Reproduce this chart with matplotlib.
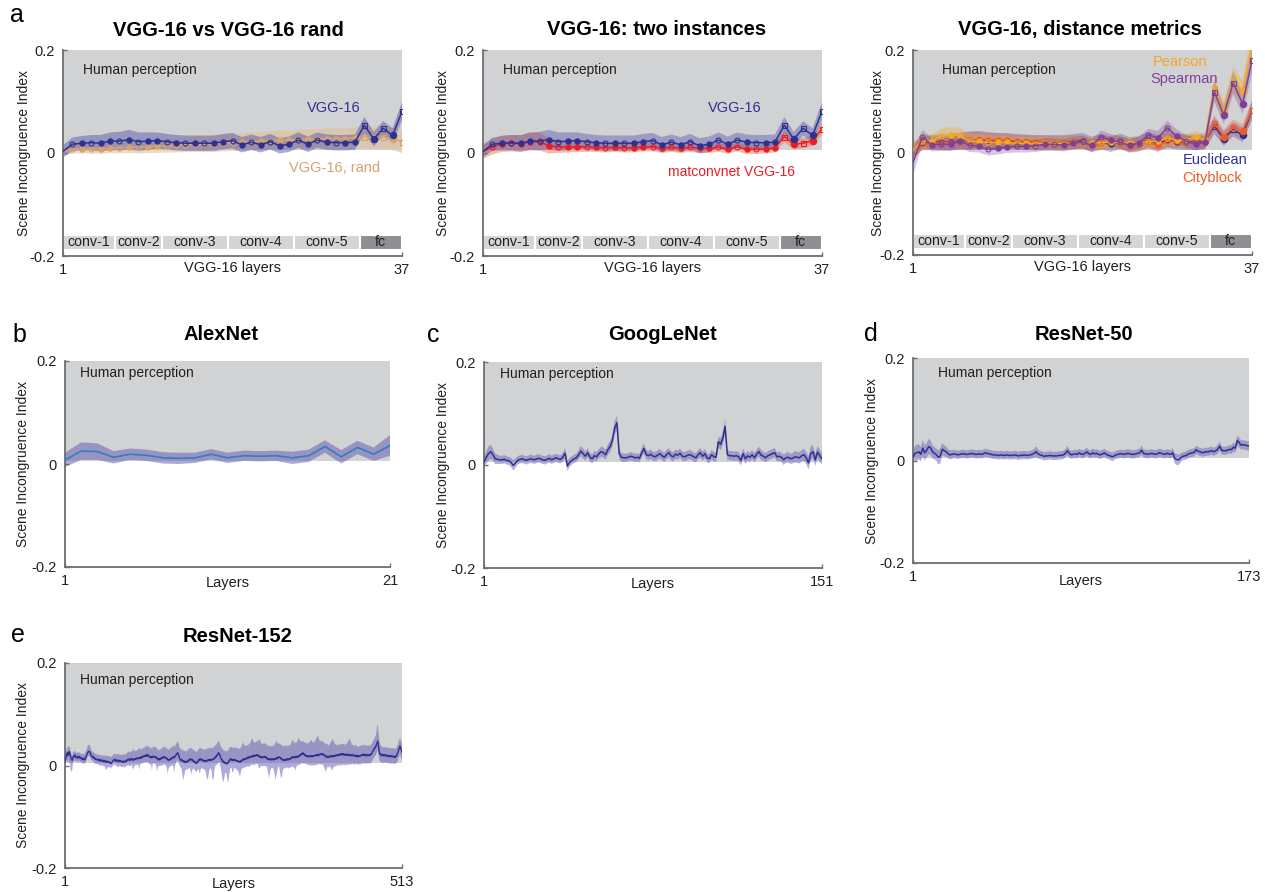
import numpy as np
import matplotlib
matplotlib.use('Agg')
import matplotlib.pyplot as plt
from matplotlib.patches import Rectangle

plt.rcParams['font.family'] = ['Liberation Sans', 'DejaVu Sans']

# ---------------------------------------------------------------- data
HUMAN_LO = 0.005  # lower edge of the human-perception band
HUMAN_HI = 0.2

vgg_layer_types = ['input', 'relu', 'conv', 'relu', 'conv', 'pool', 'relu', 'conv', 'relu', 'conv',
                   'pool', 'relu', 'conv', 'relu', 'conv', 'relu', 'conv', 'pool', 'relu', 'conv',
                   'relu', 'conv', 'relu', 'conv', 'pool', 'relu', 'conv', 'relu', 'conv', 'relu',
                   'conv', 'pool', 'fcrelu', 'fc', 'fcrelu', 'fc', 'prob']
vgg_blocks = ['conv-1', 'conv-2', 'conv-3', 'conv-4', 'conv-5', 'fc']
vgg_block_edges = [1, 6.5, 11.5, 18.5, 25.5, 32.5, 37]

# values in thousandths
vgg16_m = [3, 17, 19, 20, 19, 23, 23, 26, 22, 23, 24, 22, 20, 19, 19, 19, 19, 22, 24, 16,
           21, 16, 22, 14, 17, 25, 17, 25, 21, 20, 20, 21, 54, 27, 48, 34, 81]
vgg16_hw = [12, 13, 14, 15, 16, 17, 18, 19, 18, 17, 16, 15, 15, 15, 15, 15, 15, 15, 15, 15,
            15, 15, 15, 15, 15, 15, 15, 15, 15, 15, 15, 15, 16, 14, 14, 14, 18]
vgg16rand_m = [3, 7, 8, 8, 8, 10, 10, 11, 11, 12, 13, 14, 15, 16, 17, 17, 18, 19, 20, 21,
               22, 23, 24, 25, 25, 26, 27, 27, 28, 28, 28, 29, 32, 29, 31, 28, 22]
vgg16rand_hw = [8, 8, 9, 9, 10, 10, 11, 11, 12, 12, 13, 13, 14, 14, 15, 15, 16, 16, 16, 17,
                17, 17, 18, 18, 18, 19, 19, 19, 20, 20, 20, 20, 22, 22, 22, 22, 22]
matconv_m = [3, 12, 18, 19, 18, 22, 22, 14, 12, 11, 12, 12, 11, 10, 11, 10, 10, 12, 12, 9,
             11, 9, 11, 9, 9, 11, 8, 12, 7, 7, 8, 10, 32, 17, 19, 24, 47]
matconv_hw = [14, 15, 16, 16, 16, 17, 17, 15, 12, 10, 10, 10, 9, 9, 9, 9, 9, 9, 9, 9,
              9, 9, 9, 9, 9, 9, 9, 9, 9, 9, 9, 9, 11, 10, 10, 10, 12]
pearson_m = [5, 22, 22, 32, 35, 33, 22, 22, 20, 20, 20, 18, 18, 17, 18, 18, 17, 18, 19, 18,
             20, 20, 20, 18, 18, 22, 22, 28, 24, 24, 30, 25, 125, 80, 142, 120, 212]
pearson_hw = [14, 14, 14, 15, 15, 15, 14, 13, 12, 12, 12, 12, 12, 12, 12, 12, 12, 12, 12, 12,
              12, 12, 12, 12, 12, 12, 12, 14, 12, 12, 12, 12, 22, 20, 24, 22, 28]
spearman_m = [-20, 30, 15, 16, 16, 22, 14, 12, 6, 8, 11, 12, 12, 13, 16, 16, 14, 18, 20, 14,
              31, 24, 20, 14, 19, 34, 29, 48, 32, 22, 16, 20, 119, 73, 136, 95, 180]
spearman_hw = [25, 14, 13, 13, 13, 13, 13, 12, 12, 12, 12, 12, 12, 12, 12, 12, 12, 12, 12, 12,
               12, 12, 12, 12, 12, 12, 13, 14, 13, 12, 12, 12, 20, 18, 22, 20, 26]
euclid_m = [5, 18, 20, 20, 20, 22, 23, 24, 22, 22, 23, 21, 20, 19, 19, 19, 19, 21, 23, 16,
            21, 16, 22, 15, 17, 25, 18, 25, 21, 20, 20, 21, 52, 27, 45, 34, 82]
euclid_hw = [14, 13, 14, 15, 16, 17, 18, 18, 17, 16, 15, 15, 15, 15, 15, 15, 15, 15, 15, 15,
             15, 15, 15, 15, 15, 15, 15, 15, 15, 15, 15, 15, 16, 14, 14, 14, 18]
cityblock_m = [5, 17, 18, 19, 19, 21, 24, 25, 25, 24, 24, 22, 21, 20, 20, 19, 19, 20, 20, 14,
               18, 20, 19, 13, 16, 20, 14, 22, 22, 20, 18, 20, 57, 31, 50, 41, 83]
cityblock_hw = [14, 13, 13, 14, 14, 15, 16, 16, 15, 14, 13, 13, 13, 13, 13, 13, 13, 13, 13, 13,
                13, 13, 13, 13, 13, 13, 13, 13, 13, 13, 13, 13, 16, 14, 15, 14, 18]

alexnet_m = [8, 25, 24, 13, 19, 17, 12, 11, 12, 19, 12, 16, 15, 16, 12, 16, 34, 14, 32, 19, 36]
alexnet_hw = [14, 17, 16, 12, 11, 11, 11, 11, 10, 10, 10, 10, 10, 10, 12, 12, 12, 13, 13, 13, 20]

googlenet_m = [6, 15, 22, 26, 20, 12, 11, 10, 10, 11, 9, 8, 5, -1, 4, 9, 11, 12, 10, 9, 11, 12, 10, 11, 13,
               12, 10, 9, 11, 13, 10, 12, 14, 12, 11, 15, 23, -2, 5, 9, 12, 14, 20, 27, 22, 17, 24, 15, 12, 18,
               16, 22, 26, 24, 20, 30, 36, 48, 72, 82, 22, 15, 14, 14, 15, 17, 16, 14, 15, 13, 24, 32, 20, 18, 21,
               17, 16, 19, 22, 18, 15, 20, 24, 18, 16, 21, 19, 23, 17, 16, 18, 20, 19, 16, 14, 20, 24, 17, 22, 14,
               12, 20, 16, 15, 45, 40, 52, 75, 20, 18, 18, 17, 18, 16, 9, 22, 12, 18, 15, 20, 14, 21, 26, 19, 17,
               14, 18, 20, 22, 24, 16, 17, 15, 10, 14, 15, 12, 13, 16, 15, 14, 18, 20, 14, 4, 22, 26, 10, 25, 18, 12]
googlenet_hw = [10, 12, 14, 14, 12, 10, 9, 8, 8, 8, 8, 8, 9, 10, 9, 8, 8, 8, 8, 8, 8, 8, 8, 8, 8,
                8, 8, 8, 8, 8, 8, 8, 8, 8, 8, 9, 10, 10, 9, 8, 8, 8, 9, 10, 10, 9, 9, 9, 9, 9,
                9, 9, 10, 10, 10, 10, 11, 12, 13, 14, 10, 9, 8, 8, 8, 8, 8, 8, 8, 8, 9, 10, 9, 9, 9,
                9, 9, 9, 9, 9, 9, 9, 9, 9, 9, 9, 9, 9, 9, 9, 9, 9, 9, 9, 9, 9, 9, 9, 9, 9,
                9, 9, 9, 9, 11, 12, 13, 14, 10, 9, 9, 9, 9, 9, 10, 10, 10, 9, 9, 9, 9, 9, 10, 10, 9,
                9, 9, 9, 9, 9, 9, 9, 9, 10, 10, 10, 10, 10, 11, 11, 11, 11, 12, 12, 13, 14, 13, 12, 12, 12, 11]

resnet50_m = [7, 14, 15, 17, 12, 24, 15, 20, 27, 25, 17, 14, 11, 6, 9, 22, 19, 17, 13, 11,
              12, 13, 12, 11, 12, 13, 13, 12, 12, 13, 14, 13, 12, 12, 13, 12, 13, 15, 14, 13,
              12, 11, 11, 10, 10, 11, 10, 10, 11, 10, 10, 10, 11, 10, 9, 10, 10, 11, 10, 10,
              11, 12, 14, 17, 13, 11, 10, 8, 9, 9, 10, 9, 9, 9, 9, 10, 10, 11, 14, 19,
              14, 11, 12, 13, 12, 15, 13, 12, 14, 17, 13, 12, 15, 13, 14, 12, 11, 13, 15, 12,
              10, 9, 7, 9, 11, 12, 13, 13, 12, 13, 14, 13, 12, 12, 13, 14, 15, 20, 14, 13,
              12, 13, 14, 13, 12, 13, 15, 14, 13, 12, 14, 13, 12, 15, 4, 2, 1, 5, 8, 9,
              10, 13, 14, 15, 16, 21, 18, 17, 15, 16, 17, 17, 18, 19, 17, 19, 22, 28, 20, 19,
              19, 20, 22, 21, 26, 24, 39, 35, 30, 31, 30, 29, 28]
resnet50_hw = [12, 14, 16, 15, 14, 16, 15, 14, 15, 14, 13, 12, 12, 14, 15, 12, 11, 10, 9, 9, 9, 8, 8, 8, 8,
               8, 8, 8, 8, 8, 8, 8, 8, 8, 8, 8, 8, 8, 8, 8, 8, 8, 8, 8, 8, 8, 8, 8, 8, 8,
               8, 8, 8, 8, 8, 8, 8, 8, 8, 8, 8, 8, 9, 11, 9, 8, 8, 8, 8, 8, 8, 8, 8, 8, 8,
               8, 8, 8, 8, 9, 8, 8, 8, 8, 8, 8, 8, 8, 8, 8, 8, 8, 8, 8, 8, 8, 8, 8, 8, 8,
               8, 8, 9, 8, 8, 8, 8, 8, 8, 8, 8, 8, 8, 8, 8, 8, 8, 9, 8, 8, 8, 8, 8, 8, 8,
               8, 8, 8, 8, 8, 8, 8, 8, 9, 10, 11, 10, 9, 8, 8, 8, 8, 8, 8, 8, 8, 8, 8, 8, 8,
               8, 8, 8, 8, 8, 8, 9, 9, 8, 8, 8, 8, 8, 9, 9, 9, 10, 10, 9, 9, 9, 9, 9]

resnet152_m = [7, 14, 18, 24, 19, 26, 22, 27, 20, 15, 12, 10, 15, 18, 17, 21, 17, 15, 16, 18, 14, 16, 18, 15, 14,
               15, 12, 14, 11, 14, 11, 15, 17, 20, 24, 26, 28, 27, 26, 22, 19, 18, 16, 17, 14, 15, 12, 13, 11, 12,
               11, 12, 9, 12, 10, 8, 11, 9, 10, 7, 10, 8, 6, 9, 7, 8, 6, 7, 5, 6, 4, 6, 7, 9, 11,
               10, 12, 9, 10, 8, 11, 9, 7, 10, 8, 9, 7, 8, 6, 9, 7, 8, 7, 10, 9, 12, 11, 13, 10, 12,
               11, 14, 12, 10, 13, 11, 13, 12, 14, 13, 15, 13, 15, 14, 16, 14, 17, 15, 18, 17, 19, 18, 20, 18, 21,
               18, 21, 19, 17, 18, 15, 17, 15, 18, 17, 18, 16, 18, 15, 16, 13, 14, 11, 13, 11, 14, 13, 16, 14, 17,
               15, 17, 15, 16, 13, 14, 11, 12, 10, 12, 11, 14, 13, 16, 15, 17, 15, 18, 18, 22, 22, 25, 23, 19, 14,
               12, 10, 12, 9, 10, 7, 9, 6, 8, 6, 8, 7, 10, 9, 12, 11, 13, 11, 12, 9, 10, 7, 8, 5, 6,
               4, 7, 7, 11, 10, 13, 11, 13, 10, 11, 9, 10, 8, 10, 8, 10, 9, 11, 10, 12, 10, 12, 10, 12, 11,
               13, 12, 15, 15, 18, 17, 21, 21, 25, 24, 22, 17, 14, 11, 11, 7, 8, 5, 6, 4, 5, 3, 5, 5, 9,
               9, 13, 11, 13, 10, 12, 10, 12, 10, 11, 9, 10, 8, 9, 7, 8, 6, 9, 8, 11, 10, 13, 11, 13, 12,
               14, 13, 16, 14, 17, 15, 17, 16, 18, 17, 19, 17, 20, 18, 20, 19, 21, 19, 21, 18, 19, 16, 17, 15, 17,
               15, 17, 16, 18, 16, 17, 14, 15, 12, 13, 11, 13, 11, 13, 11, 13, 11, 13, 11, 13, 12, 15, 13, 16, 15,
               17, 15, 16, 13, 14, 11, 12, 10, 12, 10, 12, 10, 13, 11, 13, 11, 13, 12, 15, 14, 17, 15, 17, 15, 17,
               15, 18, 16, 18, 16, 19, 18, 21, 20, 23, 22, 25, 22, 23, 20, 21, 18, 19, 17, 19, 17, 19, 17, 19, 17,
               19, 17, 19, 18, 20, 19, 21, 19, 21, 19, 22, 20, 22, 21, 23, 21, 23, 21, 22, 19, 20, 17, 18, 16, 18,
               16, 18, 16, 19, 17, 19, 17, 19, 17, 20, 18, 20, 19, 21, 19, 21, 20, 22, 20, 23, 21, 23, 21, 23, 20,
               22, 20, 22, 20, 22, 20, 22, 19, 21, 19, 21, 19, 21, 19, 20, 18, 20, 18, 20, 17, 19, 17, 19, 18, 20,
               19, 21, 20, 22, 20, 22, 19, 21, 19, 21, 19, 21, 19, 21, 20, 23, 23, 27, 28, 32, 32, 36, 36, 41, 43,
               48, 39, 31, 23, 23, 20, 22, 19, 21, 19, 21, 19, 21, 18, 20, 18, 20, 17, 19, 17, 19, 17, 19, 17, 18,
               16, 18, 16, 19, 19, 24, 26, 32, 34, 38, 33, 31, 26]
resnet152_lo = [9, 9, 10, 12, 14, 16, 18, 20, 22, 26, 24, 18, 12, 10, 9, 9, 9, 8, 8, 8, 9, 9, 8, 8, 8,
                8, 9, 9, 8, 8, 9, 10, 9, 9, 8, 8, 9, 9, 10, 9, 9, 8, 8, 9, 9, 10, 10, 9, 9, 9,
                9, 9, 10, 10, 11, 10, 9, 9, 10, 10, 11, 12, 14, 16, 14, 11, 10, 10, 9, 9, 10, 10, 9, 9, 9,
                9, 10, 10, 10, 11, 12, 12, 11, 10, 10, 10, 11, 11, 10, 10, 11, 11, 10, 10, 11, 11, 12, 12, 12, 13,
                12, 12, 13, 16, 20, 14, 12, 12, 13, 13, 12, 13, 16, 22, 14, 12, 12, 12, 13, 13, 12, 12, 13, 13, 14,
                13, 13, 14, 15, 14, 14, 16, 24, 18, 13, 13, 14, 14, 15, 20, 26, 18, 13, 13, 13, 14, 14, 15, 15, 14,
                14, 14, 15, 15, 16, 20, 28, 20, 15, 14, 14, 14, 14, 15, 15, 22, 30, 20, 15, 14, 14, 15, 15, 14, 14,
                14, 15, 18, 24, 32, 36, 30, 20, 16, 15, 15, 15, 16, 16, 16, 18, 24, 30, 22, 16, 15, 16, 16, 16, 17,
                17, 16, 16, 17, 22, 28, 20, 17, 17, 17, 16, 16, 17, 18, 22, 30, 36, 38, 30, 22, 17, 17, 18, 24, 38,
                40, 36, 24, 18, 17, 17, 17, 18, 20, 17, 17, 18, 22, 28, 36, 40, 38, 30, 22, 18, 20, 24, 34, 40, 32,
                24, 18, 17, 17, 22, 26, 20, 17, 16, 16, 17, 17, 18, 19, 22, 26, 30, 22, 17, 16, 16, 17, 17, 16, 16,
                16, 16, 17, 17, 18, 18, 17, 17, 16, 16, 17, 17, 18, 18, 17, 17, 17, 17, 18, 20, 24, 22, 18, 17, 17,
                17, 17, 18, 18, 18, 18, 17, 17, 22, 30, 36, 30, 22, 18, 17, 17, 17, 20, 26, 34, 40, 36, 28, 22, 18,
                18, 22, 30, 36, 38, 30, 20, 17, 16, 16, 16, 16, 16, 16, 17, 17, 17, 17, 18, 18, 18, 18, 19, 20, 22,
                26, 22, 18, 17, 17, 17, 17, 18, 18, 18, 19, 20, 19, 18, 17, 16, 16, 16, 16, 17, 17, 17, 18, 18, 18,
                18, 18, 18, 18, 19, 19, 19, 19, 19, 18, 18, 18, 19, 19, 20, 20, 20, 21, 22, 24, 28, 30, 26, 22, 20,
                20, 20, 20, 20, 22, 26, 28, 24, 21, 21, 21, 21, 21, 20, 20, 20, 20, 20, 21, 21, 21, 21, 21, 20, 20,
                20, 20, 20, 20, 20, 19, 19, 18, 18, 18, 18, 18, 17, 17, 17, 17, 17, 16, 16, 16, 16, 16, 16, 17, 17,
                17, 17, 17, 17, 17, 17, 17, 16, 16, 16, 16, 16, 16, 16, 17, 17, 17, 17, 17, 17, 17, 17, 17, 18, 18,
                18, 17, 16, 15, 15, 15, 15, 15, 15, 15, 15, 14, 14, 14, 14, 14, 14, 14, 14, 14, 14, 14, 14, 14, 14,
                14, 14, 14, 14, 14, 15, 16, 16, 16, 16, 16, 16, 16]
resnet152_hi = [8, 9, 10, 12, 14, 14, 13, 12, 11, 10, 10, 10, 10, 10, 9, 9, 9, 9, 9, 10, 10, 9, 9, 9, 9,
                9, 9, 10, 10, 10, 11, 12, 12, 12, 12, 13, 13, 13, 12, 12, 11, 10, 10, 10, 10, 10, 10, 10, 10, 10,
                10, 10, 10, 10, 10, 10, 10, 10, 10, 11, 11, 11, 11, 11, 11, 12, 12, 12, 12, 12, 12, 12, 12, 12, 12,
                12, 12, 12, 12, 12, 13, 13, 13, 13, 13, 13, 13, 13, 14, 14, 14, 14, 14, 14, 14, 14, 15, 15, 15, 15,
                15, 15, 16, 18, 22, 18, 16, 16, 16, 16, 16, 17, 18, 20, 18, 16, 16, 16, 16, 17, 17, 17, 18, 18, 18,
                18, 18, 18, 18, 18, 18, 18, 18, 18, 19, 19, 19, 20, 20, 20, 19, 18, 18, 18, 18, 18, 18, 19, 19, 20,
                20, 20, 20, 20, 20, 20, 20, 20, 20, 21, 21, 21, 22, 22, 22, 22, 21, 21, 21, 22, 22, 22, 22, 22, 21,
                21, 21, 21, 21, 21, 21, 21, 21, 21, 21, 21, 22, 22, 22, 22, 22, 22, 22, 22, 22, 22, 22, 22, 22, 22,
                22, 22, 22, 22, 22, 22, 22, 22, 22, 22, 22, 22, 22, 22, 22, 23, 23, 23, 23, 23, 23, 23, 23, 23, 23,
                23, 23, 23, 23, 23, 23, 23, 23, 23, 23, 23, 23, 23, 23, 23, 23, 23, 23, 24, 24, 24, 24, 24, 24, 24,
                24, 24, 24, 24, 24, 24, 24, 24, 24, 25, 25, 25, 25, 25, 25, 26, 26, 27, 28, 30, 32, 34, 30, 27, 26,
                25, 25, 25, 25, 25, 26, 27, 29, 32, 35, 34, 30, 27, 26, 26, 26, 27, 27, 28, 30, 32, 34, 30, 28, 27,
                26, 26, 26, 26, 26, 26, 26, 26, 26, 26, 26, 26, 26, 26, 26, 26, 26, 27, 28, 30, 33, 35, 32, 28, 27,
                27, 27, 27, 27, 27, 27, 27, 27, 27, 27, 27, 27, 27, 27, 27, 27, 27, 27, 28, 30, 32, 34, 32, 29, 28,
                28, 28, 28, 30, 34, 36, 32, 28, 27, 25, 24, 24, 24, 24, 25, 25, 25, 25, 25, 26, 26, 27, 28, 30, 33,
                30, 28, 27, 27, 27, 28, 30, 33, 36, 38, 34, 30, 27, 26, 26, 25, 25, 25, 25, 24, 24, 24, 24, 25, 25,
                22, 23, 24, 26, 28, 30, 32, 34, 30, 26, 24, 22, 21, 20, 20, 20, 20, 20, 20, 20, 20, 20, 20, 20, 20,
                20, 20, 21, 22, 24, 26, 29, 31, 32, 28, 24, 21, 20, 20, 20, 20, 20, 20, 20, 19, 19, 19, 19, 19, 19,
                19, 19, 19, 19, 19, 19, 19, 19, 19, 19, 19, 19, 19, 19, 19, 19, 19, 19, 19, 19, 19, 20, 22, 25, 30,
                34, 30, 26, 22, 20, 18, 17, 16, 16, 16, 16, 16, 16, 16, 16, 16, 16, 16, 16, 16, 16, 16, 16, 16, 16,
                16, 16, 16, 16, 16, 16, 16, 16, 16, 16, 16, 16, 16]

# ---------------------------------------------------------------- styles
W, H = 1265, 892
BG = '#d1d2d4'
AXC = '#6d6e71'
TXT = '#231f20'
NAVY = '#2e3192'
NAVY_BAND = '#5d59aa'
TAN = '#d6a36e'
TAN_BAND = '#e2bf98'
RED = '#ed1c24'
RED_BAND = '#ef6a45'
PEARSON = '#f5a623'
SPEARMAN = '#7e3f98'
CITY = '#f15a24'
ALEX_LINE = '#2f7fc1'

fig = plt.figure(figsize=(W / 100, H / 100), dpi=100)


def pxax(l, t, r, b):
    return fig.add_axes([l / W, 1 - b / H, (r - l) / W, (b - t) / H])


def arr(v):
    return np.asarray(v, dtype=float) / 1000.0


def base(ax, n, wpx, hpx, ylab_dx, xlabel, xlab_dy, hp_xy):
    ax.set_xlim(1, n)
    ax.set_ylim(-0.2, 0.2)
    ax.add_patch(Rectangle((1, HUMAN_LO), n - 1, HUMAN_HI - HUMAN_LO, facecolor=BG,
                           edgecolor='none', zorder=0))
    for s in ['top', 'right']:
        ax.spines[s].set_visible(False)
    for s in ['left', 'bottom']:
        ax.spines[s].set_color(AXC)
        ax.spines[s].set_linewidth(1.3)
    ax.set_yticks([-0.2, 0, 0.2])
    ax.set_yticklabels(['-0.2', '0', '0.2'])
    ax.set_xticks([1, n])
    ax.set_xticklabels(['1', str(n)])
    ax.tick_params(direction='in', length=3, width=1, color=AXC, labelsize=10.5,
                   labelcolor=TXT, pad=5)
    ax.tick_params(axis='y', pad=6)
    ax.set_ylabel('Scene Incongruence Index', fontsize=10, color=TXT, va='center')
    ax.yaxis.set_label_coords(-ylab_dx / wpx, 0.5)
    ax.set_xlabel(xlabel, fontsize=10.5, color=TXT, va='center')
    ax.xaxis.set_label_coords(0.5, -xlab_dy / hpx)
    ax.text(hp_xy[0], hp_xy[1], 'Human perception', transform=ax.transAxes,
            fontsize=10, color=TXT, ha='left', va='center')
    ax.set_facecolor('none')


def band_line(ax, m, lo, hi, color, bandcolor, alpha=0.5, lw=1.2, z=2):
    x = np.arange(1, len(m) + 1)
    m = arr(m)
    ax.fill_between(x, m - arr(lo), m + arr(hi), facecolor=bandcolor, alpha=alpha,
                    edgecolor='none', zorder=z)
    return x, m


def vgg_line(ax, m, color, lw=1.1, z=4):
    x = np.arange(1, len(m) + 1)
    y = arr(m)
    ax.plot(x, y, color=color, lw=lw, zorder=z)
    styles = {
        'conv': dict(marker='o', ms=3.6, mfc=color, mec=color),
        'pool': dict(marker='o', ms=3.6, mfc=color, mec=color),
        'relu': dict(marker='o', ms=3.6, mfc='none', mec=color, mew=0.8),
        'fc': dict(marker='o', ms=4.4, mfc=color, mec=color),
        'fcrelu': dict(marker='s', ms=3.6, mfc='none', mec=color, mew=0.8),
        'prob': dict(marker='s', ms=3.6, mfc='none', mec=color, mew=0.8),
    }
    types = np.array(vgg_layer_types)
    for kind, st in styles.items():
        idx = np.where(types == kind)[0]
        ax.plot(x[idx], y[idx], ls='none', zorder=z + 0.1, **st)


def vgg_blocks_draw(ax):
    for i, name in enumerate(vgg_blocks):
        x0, x1 = vgg_block_edges[i], vgg_block_edges[i + 1]
        fc = '#8e8f92' if name == 'fc' else '#d4d5d7'
        ax.add_patch(Rectangle((x0, -0.188), x1 - x0, 0.029, facecolor=fc,
                               edgecolor='white', lw=1.5, zorder=1))
        ax.text((x0 + x1) / 2, -0.1735, name, fontsize=10.2, color=TXT,
                ha='center', va='center', zorder=2)


def ftext(xpx, ypx, s, **kw):
    fig.text(xpx / W, 1 - ypx / H, s, **kw)


TITLE = dict(fontsize=14.5, fontweight='bold', color='black', ha='center', va='baseline')
LETTER = dict(fontsize=18, color='black', ha='left', va='baseline')

# ---------------------------------------------------------------- panel a1
ax = pxax(63, 50, 402, 256)
base(ax, 37, 339, 206, 39, 'VGG-16 layers', 12, (0.059, 0.903))
vgg_blocks_draw(ax)
band_line(ax, vgg16rand_m, vgg16rand_hw, vgg16rand_hw, TAN, TAN_BAND, alpha=0.6)
band_line(ax, vgg16_m, vgg16_hw, vgg16_hw, NAVY, NAVY_BAND, alpha=0.5)
vgg_line(ax, vgg16rand_m, TAN, z=3)
vgg_line(ax, vgg16_m, NAVY, z=4)
ax.text(0.80, 0.718, 'VGG-16', transform=ax.transAxes, color=NAVY, fontsize=10.5,
        ha='center', va='center')
ax.text(0.80, 0.427, 'VGG-16, rand', transform=ax.transAxes, color=TAN, fontsize=10.5,
        ha='center', va='center')
ftext(228, 36, 'VGG-16 vs VGG-16 rand', **TITLE)
ftext(10, 22, 'a', **LETTER)

# ---------------------------------------------------------------- panel a2
ax = pxax(483, 50, 822, 256)
base(ax, 37, 339, 206, 40, 'VGG-16 layers', 12, (0.059, 0.903))
vgg_blocks_draw(ax)
band_line(ax, matconv_m, matconv_hw, matconv_hw, RED, RED_BAND, alpha=0.45)
band_line(ax, vgg16_m, vgg16_hw, vgg16_hw, NAVY, NAVY_BAND, alpha=0.45)
vgg_line(ax, matconv_m, RED, z=3)
vgg_line(ax, vgg16_m, NAVY, z=4)
ax.text(0.743, 0.718, 'VGG-16', transform=ax.transAxes, color=NAVY, fontsize=10.5,
        ha='center', va='center')
ax.text(0.733, 0.408, 'matconvnet VGG-16', transform=ax.transAxes, color=RED, fontsize=10,
        ha='center', va='center')
ftext(657, 35, 'VGG-16: two instances', **TITLE)

# ---------------------------------------------------------------- panel a3
ax = pxax(913, 50, 1252, 255)
base(ax, 37, 339, 205, 35, 'VGG-16 layers', 12, (0.085, 0.903))
vgg_blocks_draw(ax)
band_line(ax, euclid_m, euclid_hw, euclid_hw, NAVY, NAVY_BAND, alpha=0.4)
band_line(ax, cityblock_m, cityblock_hw, cityblock_hw, CITY, CITY, alpha=0.3)
band_line(ax, pearson_m, pearson_hw, pearson_hw, PEARSON, PEARSON, alpha=0.35)
band_line(ax, spearman_m, spearman_hw, spearman_hw, SPEARMAN, SPEARMAN, alpha=0.3)
vgg_line(ax, euclid_m, NAVY, z=3)
vgg_line(ax, cityblock_m, CITY, z=3.3)
vgg_line(ax, pearson_m, PEARSON, z=3.6)
vgg_line(ax, spearman_m, SPEARMAN, z=4)
for s, c, xx, yy in [('Pearson', PEARSON, 0.788, 0.942), ('Spearman', SPEARMAN, 0.80, 0.859),
                     ('Euclidean', NAVY, 0.89, 0.461), ('Cityblock', CITY, 0.882, 0.374)]:
    ax.text(xx, yy, s, transform=ax.transAxes, color=c, fontsize=10.5, ha='center', va='center',
            zorder=6)
ftext(1080, 35, 'VGG-16, distance metrics', **TITLE)

# ---------------------------------------------------------------- panel b
ax = pxax(65, 361, 390, 567)
base(ax, 21, 325, 206, 42, 'Layers', 16, (0.046, 0.943))
x, m = band_line(ax, alexnet_m, alexnet_hw, alexnet_hw, ALEX_LINE, '#6a62b4', alpha=0.55)
ax.plot(x, m, color=ALEX_LINE, lw=1.2, zorder=4)
ftext(221, 340, 'AlexNet', **TITLE)
ftext(12, 342, 'b', **LETTER)

# ---------------------------------------------------------------- panel c
ax = pxax(484, 362, 822, 568)
base(ax, 151, 338, 206, 41, 'Layers', 16, (0.047, 0.943))
x, m = band_line(ax, googlenet_m, googlenet_hw, googlenet_hw, NAVY, '#6a64b8', alpha=0.5)
ax.plot(x, m, color=NAVY, lw=1.1, zorder=4)
ftext(662, 340, 'GoogLeNet', **TITLE)
ftext(427, 342, 'c', **LETTER)

# ---------------------------------------------------------------- panel d
ax = pxax(913, 358, 1249, 563)
base(ax, 173, 336, 205, 41, 'Layers', 18, (0.073, 0.928))
x, m = band_line(ax, resnet50_m, resnet50_hw, resnet50_hw, NAVY, '#6a64b8', alpha=0.5)
ax.plot(x, m, color=NAVY, lw=1.1, zorder=4)
ftext(1084, 340, 'ResNet-50', **TITLE)
ftext(864, 341, 'd', **LETTER)

# ---------------------------------------------------------------- panel e
ax = pxax(65, 663, 402, 868)
base(ax, 513, 337, 205, 42, 'Layers', 16, (0.045, 0.917))
x, m = band_line(ax, resnet152_m, resnet152_lo, resnet152_hi, NAVY, '#6a64b8', alpha=0.55)
ax.plot(x, m, color=NAVY, lw=1.0, zorder=4)
ftext(238, 642, 'ResNet-152', **TITLE)
ftext(11, 642, 'e', **LETTER)

fig.savefig('out.png', dpi=100)
